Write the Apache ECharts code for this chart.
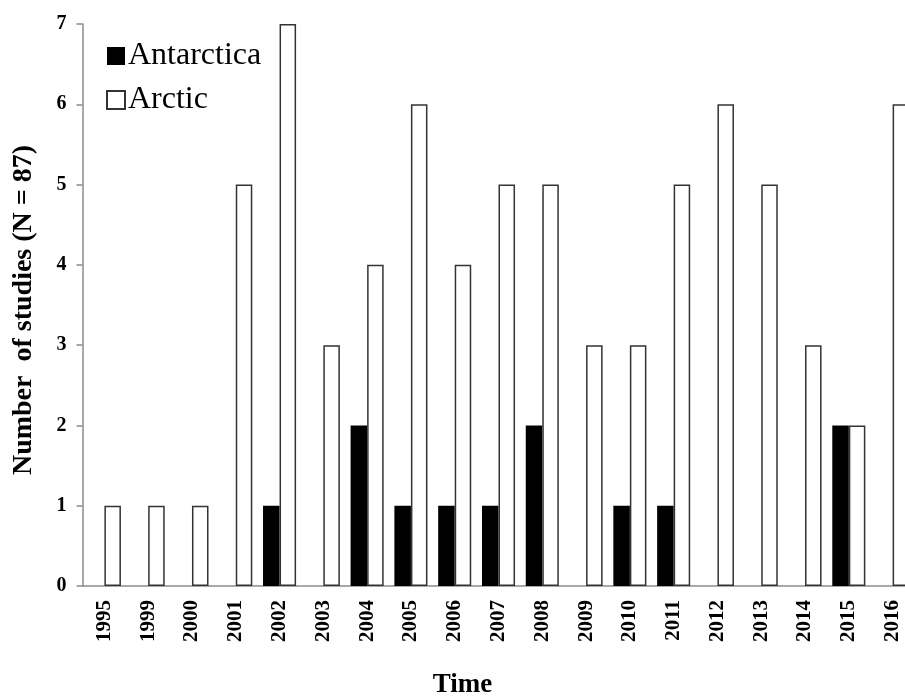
<!DOCTYPE html>
<html>
<head>
<meta charset="utf-8">
<script src="https://cdn.jsdelivr.net/npm/echarts@6/dist/echarts.min.js"></script>
<style>
html,body{margin:0;padding:0;background:#fff;}
#chart{width:905px;height:697px;}
</style>
</head>
<body>
<div id="chart"></div>
<script>
var years = ['1995','1999','2000','2001','2002','2003','2004','2005','2006','2007','2008','2009','2010','2011','2012','2013','2014','2015','2016'];
var antarctica = [0,0,0,0,1,0,2,1,1,1,2,0,1,1,0,0,0,2,0];
var arctic = [1,1,1,5,7,3,4,6,4,5,5,3,3,5,6,5,3,2,6];
var yTicks = [0,1,2,3,4,5,6,7];

var serif = '"Liberation Serif", "Times New Roman", serif';
var chart = echarts.init(document.getElementById('chart'), null, {renderer:'canvas'});
chart.setOption({
  animation: false,
  backgroundColor: '#fff',
  grid: {left: 82.5, top: 24, width: 832, height: 562, containLabel: false, outerBoundsMode: 'none'},
  legend: {
    orient: 'vertical', left: 101, top: 35, itemGap: 12,
    itemWidth: 18, itemHeight: 18, icon: 'rect',
    textStyle: {fontFamily: serif, fontSize: 32, color: '#000', lineHeight: 32, padding:[0,0,0,-2]},
    data: ['Antarctica','Arctic']
  },
  xAxis: {
    type: 'category', data: years,
    name: 'Time', nameLocation: 'middle', nameGap: 86,
    nameTextStyle: {fontFamily: serif, fontWeight: 'bold', fontSize: 27, color: '#000', padding:[0,72,0,0]},
    axisLine: {lineStyle: {color: '#8c8c8c', width: 1.5}},
    axisTick: {alignWithLabel: false, length: 7, lineStyle: {color: '#8c8c8c', width: 1.5}},
    axisLabel: {rotate: 90, margin: 14, fontFamily: serif, fontWeight: 'bold', fontSize: 21, color: '#000', interval: 0}
  },
  yAxis: {
    type: 'value', min: 0, max: 7, interval: 1,
    name: 'Number  of studies (N = 87)', nameLocation: 'middle', nameRotate: 90, nameGap: 45,
    nameTextStyle: {fontFamily: serif, fontWeight: 'bold', fontSize: 28, color: '#000', padding:[0,10,0,0]},
    axisLine: {show: true, lineStyle: {color: '#8c8c8c', width: 1.5}},
    axisTick: {show: true, length: 6, lineStyle: {color: '#8c8c8c', width: 1.5}},
    splitLine: {show: false},
    axisLabel: {margin: 16, fontFamily: serif, fontWeight: 'bold', fontSize: 20, color: '#000',
      formatter: function(v){ return yTicks.indexOf(v) >= 0 ? String(v) : ''; }}
  },
  series: [
    {name: 'Antarctica', type: 'bar', data: antarctica, barGap: '0%', barCategoryGap: '24.5%',
     itemStyle: {color: '#000', borderWidth: 0}},
    {name: 'Arctic', type: 'bar', data: arctic, barGap: '0%', barCategoryGap: '24.5%',
     itemStyle: {color: '#fff', borderColor: '#333', borderWidth: 1.5}}
  ]
});
</script>
</body>
</html>
